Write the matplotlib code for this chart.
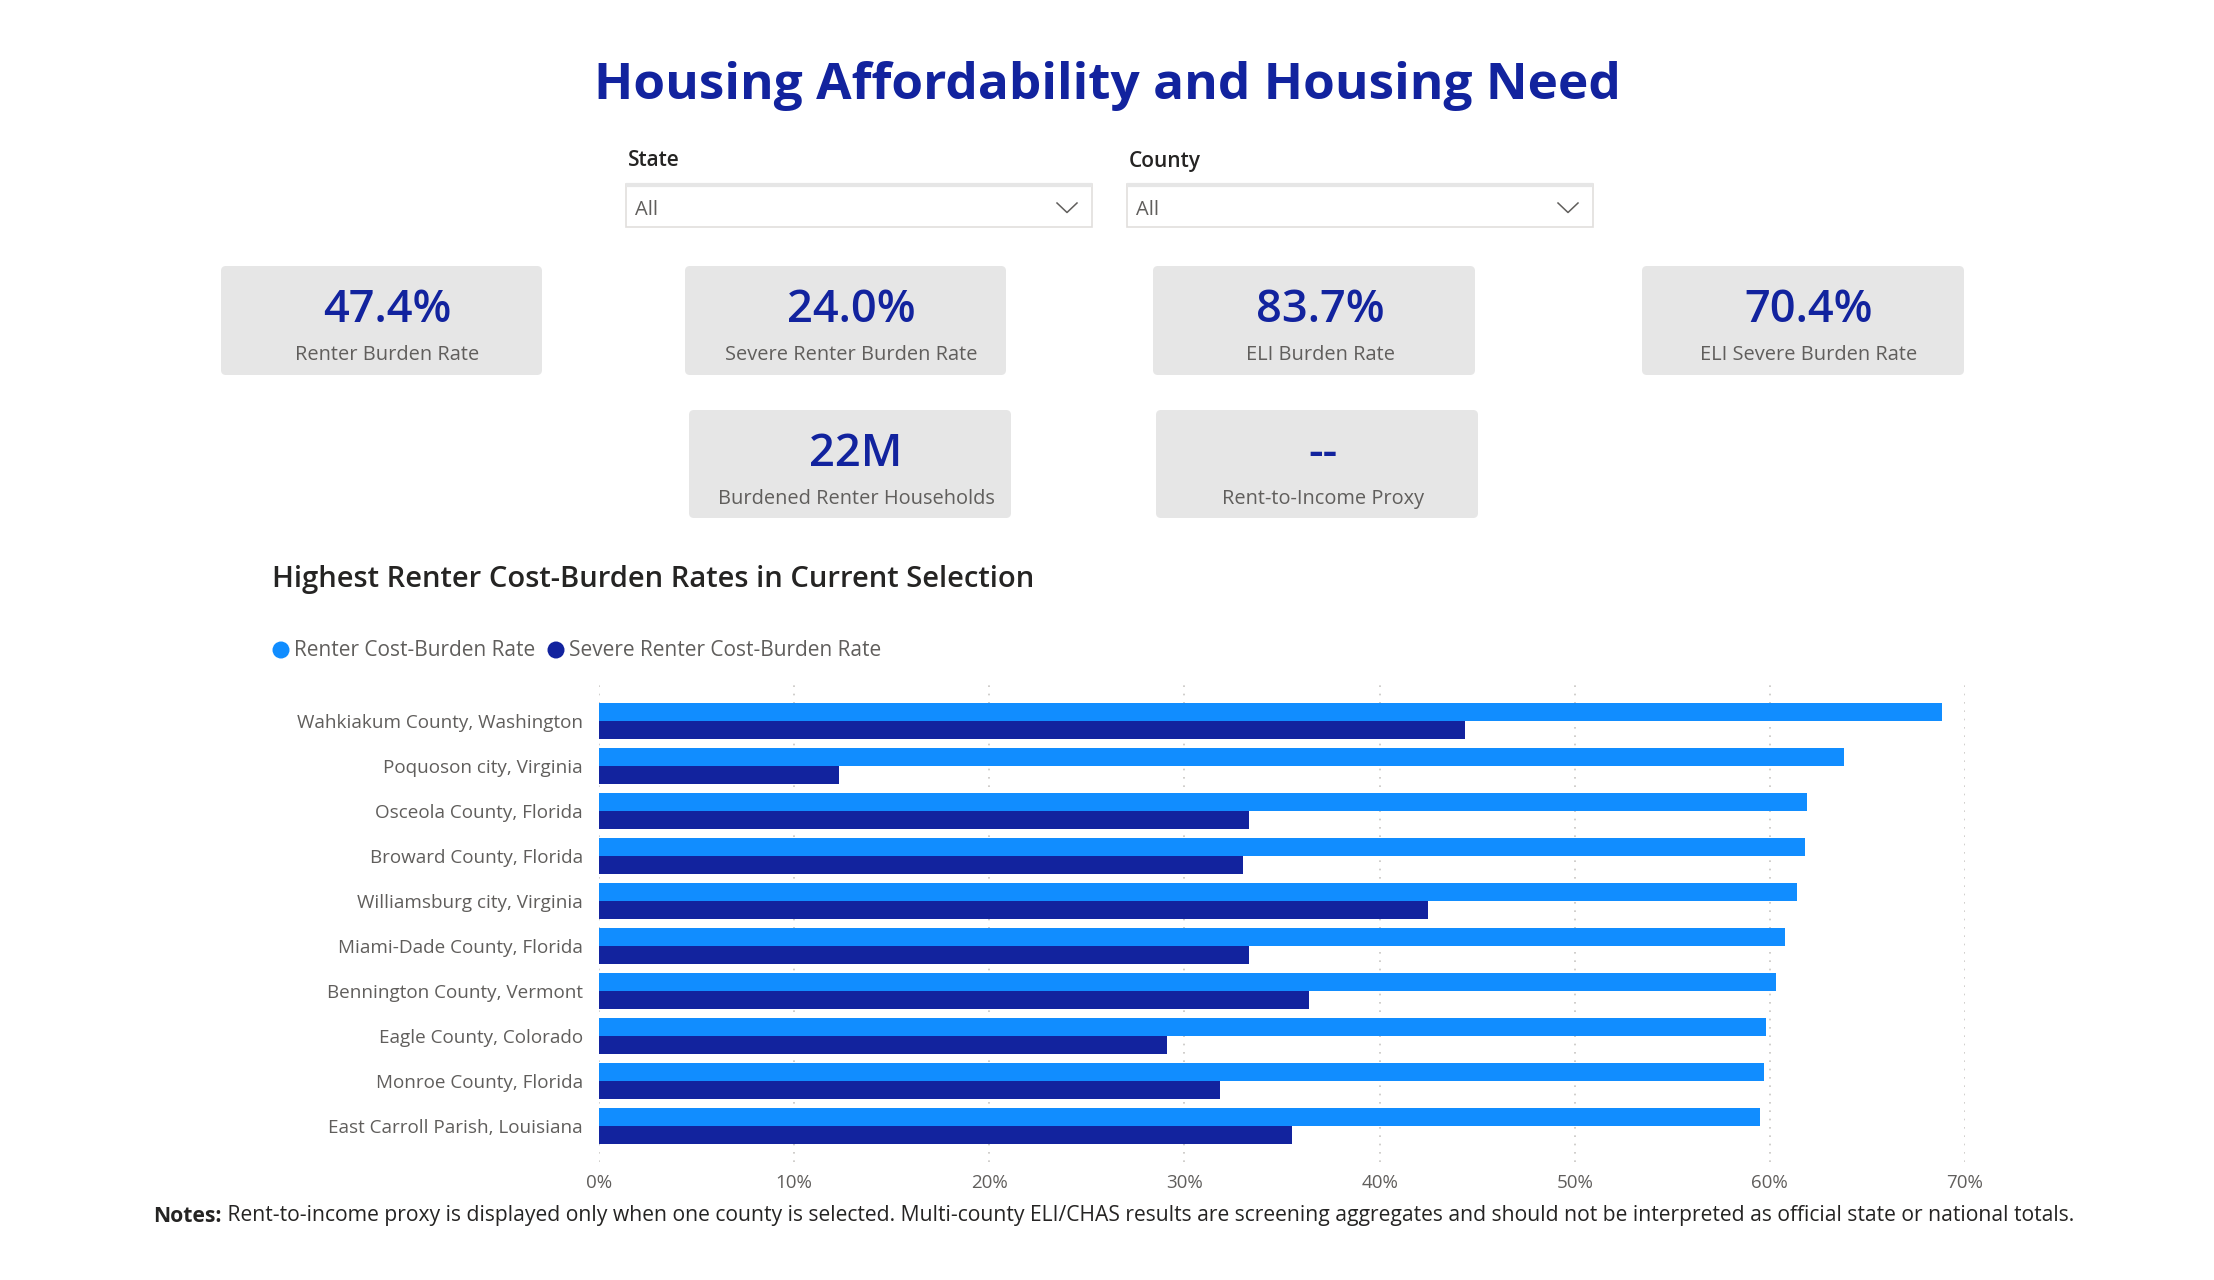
import matplotlib
matplotlib.use("Agg")
import matplotlib.pyplot as plt
from matplotlib.patches import FancyBboxPatch, Rectangle, Circle
import numpy as np

plt.rcParams['font.family'] = ['Open Sans', 'DejaVu Sans']

# ---------------- data ----------------
title = "Housing Affordability and Housing Need"
chart_title = "Highest Renter Cost-Burden Rates in Current Selection"
slicer_labels = ["State", "County"]
slicer_values = ["All", "All"]
kpi_values = ["47.4%", "24.0%", "83.7%", "70.4%", "22M", "--"]
kpi_labels = ["Renter Burden Rate", "Severe Renter Burden Rate", "ELI Burden Rate",
              "ELI Severe Burden Rate", "Burdened Renter Households", "Rent-to-Income Proxy"]
counties = ["Wahkiakum County, Washington", "Poquoson city, Virginia", "Osceola County, Florida",
            "Broward County, Florida", "Williamsburg city, Virginia", "Miami-Dade County, Florida",
            "Bennington County, Vermont", "Eagle County, Colorado", "Monroe County, Florida",
            "East Carroll Parish, Louisiana"]
burden_rate = [68.8, 63.8, 61.9, 61.8, 61.4, 60.8, 60.3, 59.8, 59.7, 59.5]
severe_rate = [44.4, 12.3, 33.3, 33.0, 42.5, 33.3, 36.4, 29.1, 31.8, 35.5]
series_names = ["Renter Cost-Burden Rate", "Severe Renter Cost-Burden Rate"]
x_ticks = [0, 10, 20, 30, 40, 50, 60, 70]
x_ticklabels = ["0%", "10%", "20%", "30%", "40%", "50%", "60%", "70%"]
notes_bold = "Notes:"
notes_text = (" Rent-to-income proxy is displayed only when one county is selected. Multi-county "
              "ELI/CHAS results are screening aggregates and should not be interpreted as official "
              "state or national totals.")

# ---------------- style ----------------
W, H = 2214, 1280
C_LIGHT = "#118DFF"
C_DARK = "#12239E"
C_TITLE = "#12239E"
C_TEXT = "#252423"
C_GREY = "#605E5C"
C_CARD = "#E6E6E6"

fig = plt.figure(figsize=(W / 100, H / 100), dpi=100)
fig.patch.set_facecolor("white")

# overlay axes in pixel coordinates
ov = fig.add_axes([0, 0, 1, 1])
ov.set_xlim(0, W)
ov.set_ylim(H, 0)
ov.axis("off")
ov.set_zorder(0)

renderer = fig.canvas.get_renderer()


def width_of(t):
    return t.get_window_extent(renderer=renderer).width


def fit(t, target_w):
    t.set_fontsize(t.get_fontsize() * target_w / width_of(t))


# main title
t = ov.text(W / 2, 86, title, ha="center", va="center", fontsize=38, fontweight="bold",
            color=C_TITLE)
fit(t, 1027)

# slicers
slicer_x = [626, 1127]
for sx, lab, val in zip(slicer_x, slicer_labels, slicer_values):
    ov.text(sx + 2, 161, lab, ha="left", va="center", fontsize=15, fontweight="semibold",
            color=C_TEXT)
    ov.add_patch(Rectangle((sx, 184), 466, 43, facecolor="white", edgecolor="#E1DFDD", lw=1.2))
    ov.plot([sx, sx + 466], [185, 185], color="#E6E6E6", lw=3, solid_capstyle="butt")
    ov.text(sx + 9, 210, val, ha="left", va="center", fontsize=14.5, color=C_GREY)
    cx = sx + 441
    ov.plot([cx - 10, cx, cx + 10], [203, 212.5, 203], color=C_GREY, lw=1.1)

# KPI cards
cards = [(221, 266, 321, 109), (685, 266, 321, 109), (1153, 266, 322, 109), (1642, 266, 322, 109),
         (689, 410, 322, 108), (1156, 410, 322, 108)]
for (cx, cy, cw, ch), v, lab in zip(cards, kpi_values, kpi_labels):
    ov.add_patch(FancyBboxPatch((cx, cy), cw, ch, boxstyle="round,pad=0,rounding_size=5",
                                facecolor=C_CARD, edgecolor="none"))
    ov.text(cx + cw / 2 + 6, cy + 44, v, ha="center", va="center", fontsize=32.5,
            fontweight="semibold", color=C_TITLE)
    ov.text(cx + cw / 2 + 6, cy + 89, lab, ha="center", va="center", fontsize=14.4, color=C_GREY)

# chart title
t = ov.text(272, 580, chart_title, ha="left", va="center", fontsize=21.5,
            fontweight="semibold", color=C_TEXT)
fit(t, 763)

# legend
leg_x = [281, 556]
for lx, name, col in zip(leg_x, series_names, [C_LIGHT, C_DARK]):
    ov.add_patch(Circle((lx, 650), 8.5, facecolor=col, edgecolor="none"))
    tl = ov.text(lx + 13, 650, name, ha="left", va="center", fontsize=14.4, color=C_GREY)
    if name == series_names[0]:
        fit(tl, 242)
        leg_fs = tl.get_fontsize()
    else:
        tl.set_fontsize(leg_fs)

# notes
tn = ov.text(153, 1216, notes_bold, ha="left", va="center", fontsize=13.8, fontweight="bold",
             color=C_TEXT)
tn2 = ov.text(153 + width_of(tn), 1216, notes_text, ha="left", va="center", fontsize=13.8,
              color=C_TEXT)
scale = 1927 / (width_of(tn) + width_of(tn2))
tn.set_fontsize(13.8 * scale)
tn2.set_fontsize(13.8 * scale)
tn2.set_x(153 + width_of(tn))

# ---------------- bar chart ----------------
ax = fig.add_axes([599 / W, 1 - 1162 / H, (1965 - 599) / W, (1162 - 685) / H])
ax.set_zorder(2)
ax.patch.set_alpha(0)
y = np.arange(len(counties))
bh = 0.393
ax.barh(y - bh / 2, burden_rate, height=bh, color=C_LIGHT, zorder=3)
ax.barh(y + bh / 2, severe_rate, height=bh, color=C_DARK, zorder=3)
ax.set_xlim(0, 70)
ax.set_ylim(len(counties) - 0.2, -0.8)
ax.set_yticks(y)
ax.set_yticklabels(counties, fontsize=13.6, color=C_GREY)
ax.set_xticks(x_ticks)
ax.set_xticklabels(x_ticklabels, fontsize=13.5, color=C_GREY)
ax.tick_params(axis="both", length=0)
ax.tick_params(axis="y", pad=11.5)
ax.tick_params(axis="x", pad=9)
for s in ax.spines.values():
    s.set_visible(False)
ax.grid(axis="x", color="#C8C6C4", linestyle=(0, (1, 4)), lw=1.2, zorder=0)
ax.set_axisbelow(True)

fig.savefig("out.png", dpi=100, facecolor="white")
